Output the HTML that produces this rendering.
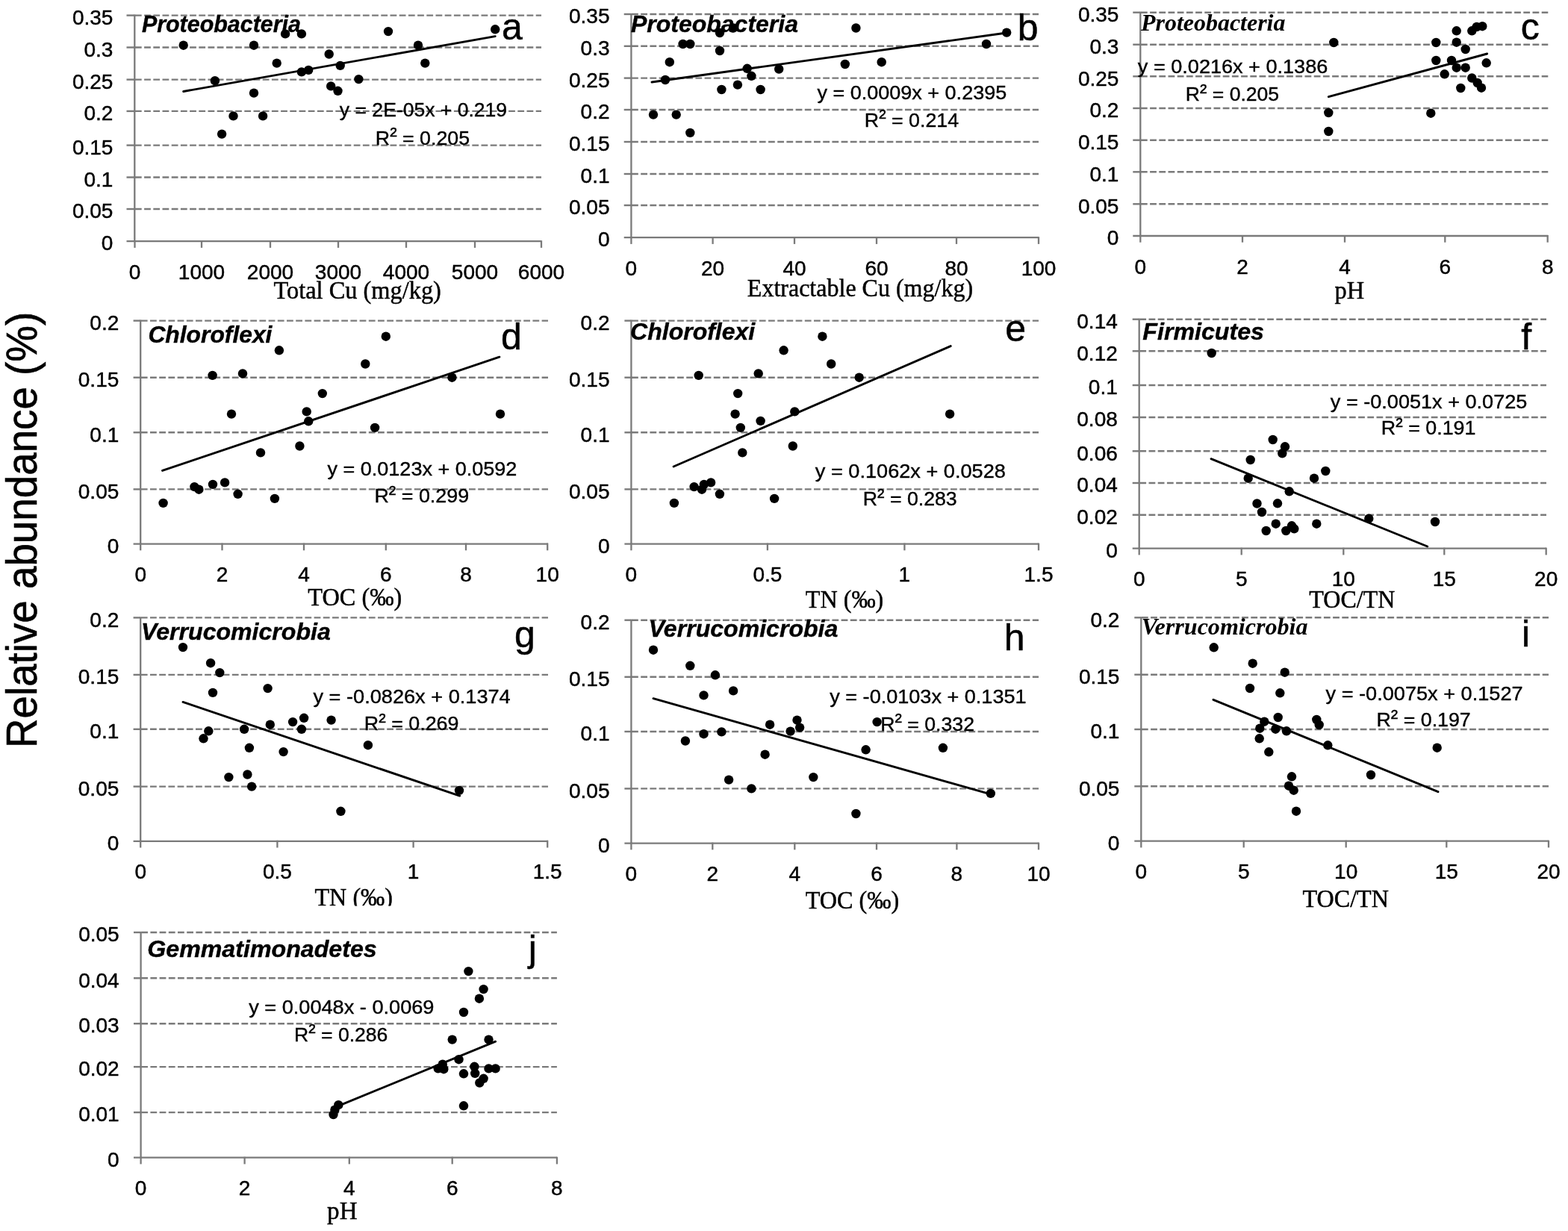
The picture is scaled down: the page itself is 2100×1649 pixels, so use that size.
<!DOCTYPE html>
<html><head><meta charset="utf-8"><title>Relative abundance scatter plots</title>
<style>
html,body{margin:0;padding:0;background:#fff;}
body{width:2100px;height:1649px;overflow:hidden;}
svg{display:block;filter:blur(0.45px);}
.t{font-family:"Liberation Sans", Arial, Helvetica, sans-serif;font-size:28.0px;fill:#000;stroke:#000;stroke-width:0.45px;}
</style></head><body>
<svg width="2100" height="1649" viewBox="0 0 2100 1649">
<rect x="0" y="0" width="2100" height="1649" fill="#fff"/>
<g id="pa"><line x1="169.5" y1="280.0" x2="180.3" y2="280.0" stroke="#7a7a7a" stroke-width="2.4"/>
<line x1="180.9" y1="280.0" x2="725" y2="280.0" stroke="#7a7a7a" stroke-width="2.4" stroke-dasharray="8.8 3.4"/>
<line x1="169.5" y1="237.5" x2="180.3" y2="237.5" stroke="#7a7a7a" stroke-width="2.4"/>
<line x1="180.9" y1="237.5" x2="725" y2="237.5" stroke="#7a7a7a" stroke-width="2.4" stroke-dasharray="8.8 3.4"/>
<line x1="169.5" y1="194.6" x2="180.3" y2="194.6" stroke="#7a7a7a" stroke-width="2.4"/>
<line x1="180.9" y1="194.6" x2="725" y2="194.6" stroke="#7a7a7a" stroke-width="2.4" stroke-dasharray="8.8 3.4"/>
<line x1="169.5" y1="148.9" x2="180.3" y2="148.9" stroke="#7a7a7a" stroke-width="2.4"/>
<line x1="180.9" y1="148.9" x2="725" y2="148.9" stroke="#7a7a7a" stroke-width="2.4" stroke-dasharray="8.8 3.4"/>
<line x1="169.5" y1="106.6" x2="180.3" y2="106.6" stroke="#7a7a7a" stroke-width="2.4"/>
<line x1="180.9" y1="106.6" x2="725" y2="106.6" stroke="#7a7a7a" stroke-width="2.4" stroke-dasharray="8.8 3.4"/>
<line x1="169.5" y1="63.5" x2="180.3" y2="63.5" stroke="#7a7a7a" stroke-width="2.4"/>
<line x1="180.9" y1="63.5" x2="725" y2="63.5" stroke="#7a7a7a" stroke-width="2.4" stroke-dasharray="8.8 3.4"/>
<line x1="169.5" y1="20.6" x2="180.3" y2="20.6" stroke="#7a7a7a" stroke-width="2.4"/>
<line x1="180.9" y1="20.6" x2="725" y2="20.6" stroke="#7a7a7a" stroke-width="2.4" stroke-dasharray="8.8 3.4"/>
<line x1="180.3" y1="19.6" x2="180.3" y2="323.2" stroke="#7a7a7a" stroke-width="2.3"/>
<line x1="169.5" y1="323.2" x2="725" y2="323.2" stroke="#7a7a7a" stroke-width="2.3"/>
<line x1="180.5" y1="322.2" x2="180.5" y2="331.9" stroke="#7a7a7a" stroke-width="2.3"/>
<line x1="270" y1="322.2" x2="270" y2="331.9" stroke="#7a7a7a" stroke-width="2.3"/>
<line x1="362" y1="322.2" x2="362" y2="331.9" stroke="#7a7a7a" stroke-width="2.3"/>
<line x1="453" y1="322.2" x2="453" y2="331.9" stroke="#7a7a7a" stroke-width="2.3"/>
<line x1="544" y1="322.2" x2="544" y2="331.9" stroke="#7a7a7a" stroke-width="2.3"/>
<line x1="636" y1="322.2" x2="636" y2="331.9" stroke="#7a7a7a" stroke-width="2.3"/>
<line x1="725" y1="322.2" x2="725" y2="331.9" stroke="#7a7a7a" stroke-width="2.3"/>
<text x="151.4" y="335.3" text-anchor="end" class="t">0</text>
<text x="151.4" y="292.2" text-anchor="end" class="t">0.05</text>
<text x="151.4" y="249.7" text-anchor="end" class="t">0.1</text>
<text x="151.4" y="206.8" text-anchor="end" class="t">0.15</text>
<text x="151.4" y="161.1" text-anchor="end" class="t">0.2</text>
<text x="151.4" y="118.8" text-anchor="end" class="t">0.25</text>
<text x="151.4" y="75.7" text-anchor="end" class="t">0.3</text>
<text x="151.4" y="32.8" text-anchor="end" class="t">0.35</text>
<text x="180.5" y="373.7" text-anchor="middle" class="t">0</text>
<text x="270.0" y="373.7" text-anchor="middle" class="t">1000</text>
<text x="362.0" y="373.7" text-anchor="middle" class="t">2000</text>
<text x="453.0" y="373.7" text-anchor="middle" class="t">3000</text>
<text x="544.0" y="373.7" text-anchor="middle" class="t">4000</text>
<text x="636.0" y="373.7" text-anchor="middle" class="t">5000</text>
<text x="725.0" y="373.7" text-anchor="middle" class="t">6000</text>
<line x1="245.7" y1="122.5" x2="663.2" y2="48.6" stroke="#000" stroke-width="2.9" stroke-linecap="round"/>
<circle cx="245.7" cy="60.7" r="6.2"/>
<circle cx="287.9" cy="108.2" r="6.2"/>
<circle cx="297.1" cy="179.6" r="6.2"/>
<circle cx="312.5" cy="155.4" r="6.2"/>
<circle cx="340" cy="60.7" r="6.2"/>
<circle cx="340" cy="124.6" r="6.2"/>
<circle cx="352.1" cy="155.4" r="6.2"/>
<circle cx="370.7" cy="84.6" r="6.2"/>
<circle cx="382.1" cy="45.4" r="6.2"/>
<circle cx="403.9" cy="45.4" r="6.2"/>
<circle cx="403.9" cy="96.4" r="6.2"/>
<circle cx="413.2" cy="93.9" r="6.2"/>
<circle cx="440.7" cy="72.5" r="6.2"/>
<circle cx="443.2" cy="115.4" r="6.2"/>
<circle cx="452.5" cy="121.8" r="6.2"/>
<circle cx="455.7" cy="87.9" r="6.2"/>
<circle cx="480.4" cy="106.1" r="6.2"/>
<circle cx="520" cy="42.1" r="6.2"/>
<circle cx="560" cy="60.7" r="6.2"/>
<circle cx="569.3" cy="84.6" r="6.2"/>
<circle cx="663.2" cy="39.3" r="6.2"/>
<text x="189.89" y="42.60" font-family='"Liberation Sans", Arial, Helvetica, sans-serif' font-size="31" font-weight="bold" font-style="italic" textLength="213.10" lengthAdjust="spacingAndGlyphs" stroke="#000" stroke-width="0.4">Proteobacteria</text>
<text x="672.05" y="52.90" font-family='"Liberation Sans", Arial, Helvetica, sans-serif' font-size="50.00" stroke="#000" stroke-width="0.5">a</text>
<text x="454.87" y="156.40" font-family='"Liberation Sans", Arial, Helvetica, sans-serif' font-size="26.7" textLength="224.24" lengthAdjust="spacingAndGlyphs" stroke="#000" stroke-width="0.4">y = 2E-05x + 0.219</text>
<text x="502.85" y="193.60" font-family='"Liberation Sans", Arial, Helvetica, sans-serif' font-size="26.7" textLength="126.19" lengthAdjust="spacingAndGlyphs" stroke="#000" stroke-width="0.4">R<tspan dy="-2.2" font-size="28.3">²</tspan><tspan dy="2.2"> = 0.205</tspan></text>
<text x="366.45" y="399.70" font-family='"Liberation Serif", "Times New Roman", Times, serif' font-size="33.5" textLength="224.48" lengthAdjust="spacingAndGlyphs" stroke="#000" stroke-width="0.45">Total Cu (mg/kg)</text></g>
<g id="pb"><line x1="835.7" y1="275" x2="845.4" y2="275" stroke="#7a7a7a" stroke-width="2.4"/>
<line x1="846.0" y1="275" x2="1391" y2="275" stroke="#7a7a7a" stroke-width="2.4" stroke-dasharray="8.8 3.4"/>
<line x1="835.7" y1="233" x2="845.4" y2="233" stroke="#7a7a7a" stroke-width="2.4"/>
<line x1="846.0" y1="233" x2="1391" y2="233" stroke="#7a7a7a" stroke-width="2.4" stroke-dasharray="8.8 3.4"/>
<line x1="835.7" y1="190" x2="845.4" y2="190" stroke="#7a7a7a" stroke-width="2.4"/>
<line x1="846.0" y1="190" x2="1391" y2="190" stroke="#7a7a7a" stroke-width="2.4" stroke-dasharray="8.8 3.4"/>
<line x1="835.7" y1="147" x2="845.4" y2="147" stroke="#7a7a7a" stroke-width="2.4"/>
<line x1="846.0" y1="147" x2="1391" y2="147" stroke="#7a7a7a" stroke-width="2.4" stroke-dasharray="8.8 3.4"/>
<line x1="835.7" y1="104.6" x2="845.4" y2="104.6" stroke="#7a7a7a" stroke-width="2.4"/>
<line x1="846.0" y1="104.6" x2="1391" y2="104.6" stroke="#7a7a7a" stroke-width="2.4" stroke-dasharray="8.8 3.4"/>
<line x1="835.7" y1="61.8" x2="845.4" y2="61.8" stroke="#7a7a7a" stroke-width="2.4"/>
<line x1="846.0" y1="61.8" x2="1391" y2="61.8" stroke="#7a7a7a" stroke-width="2.4" stroke-dasharray="8.8 3.4"/>
<line x1="835.7" y1="19" x2="845.4" y2="19" stroke="#7a7a7a" stroke-width="2.4"/>
<line x1="846.0" y1="19" x2="1391" y2="19" stroke="#7a7a7a" stroke-width="2.4" stroke-dasharray="8.8 3.4"/>
<line x1="845.4" y1="18" x2="845.4" y2="318.2" stroke="#7a7a7a" stroke-width="2.3"/>
<line x1="835.7" y1="318.2" x2="1391" y2="318.2" stroke="#7a7a7a" stroke-width="2.3"/>
<line x1="845.4" y1="317.2" x2="845.4" y2="326.9" stroke="#7a7a7a" stroke-width="2.3"/>
<line x1="954.6" y1="317.2" x2="954.6" y2="326.9" stroke="#7a7a7a" stroke-width="2.3"/>
<line x1="1064" y1="317.2" x2="1064" y2="326.9" stroke="#7a7a7a" stroke-width="2.3"/>
<line x1="1174" y1="317.2" x2="1174" y2="326.9" stroke="#7a7a7a" stroke-width="2.3"/>
<line x1="1281" y1="317.2" x2="1281" y2="326.9" stroke="#7a7a7a" stroke-width="2.3"/>
<line x1="1391" y1="317.2" x2="1391" y2="326.9" stroke="#7a7a7a" stroke-width="2.3"/>
<text x="816.5" y="330.2" text-anchor="end" class="t">0</text>
<text x="816.5" y="287.2" text-anchor="end" class="t">0.05</text>
<text x="816.5" y="245.2" text-anchor="end" class="t">0.1</text>
<text x="816.5" y="202.2" text-anchor="end" class="t">0.15</text>
<text x="816.5" y="159.2" text-anchor="end" class="t">0.2</text>
<text x="816.5" y="116.8" text-anchor="end" class="t">0.25</text>
<text x="816.5" y="74.0" text-anchor="end" class="t">0.3</text>
<text x="816.5" y="31.2" text-anchor="end" class="t">0.35</text>
<text x="845.4" y="368.7" text-anchor="middle" class="t">0</text>
<text x="954.6" y="368.7" text-anchor="middle" class="t">20</text>
<text x="1064.0" y="368.7" text-anchor="middle" class="t">40</text>
<text x="1174.0" y="368.7" text-anchor="middle" class="t">60</text>
<text x="1281.0" y="368.7" text-anchor="middle" class="t">80</text>
<text x="1391.0" y="368.7" text-anchor="middle" class="t">100</text>
<line x1="873" y1="110" x2="1348" y2="44" stroke="#000" stroke-width="2.9" stroke-linecap="round"/>
<circle cx="875" cy="153.6" r="6.2"/>
<circle cx="891" cy="107" r="6.2"/>
<circle cx="896.8" cy="83.2" r="6.2"/>
<circle cx="905.7" cy="153.6" r="6.2"/>
<circle cx="914.6" cy="59" r="6.2"/>
<circle cx="924.3" cy="59" r="6.2"/>
<circle cx="924.3" cy="177.9" r="6.2"/>
<circle cx="964" cy="44" r="6.2"/>
<circle cx="964" cy="68" r="6.2"/>
<circle cx="966.4" cy="120" r="6.2"/>
<circle cx="982" cy="37.5" r="6.2"/>
<circle cx="987.9" cy="113.6" r="6.2"/>
<circle cx="1000.7" cy="91.8" r="6.2"/>
<circle cx="1006.4" cy="101.8" r="6.2"/>
<circle cx="1018.6" cy="120" r="6.2"/>
<circle cx="1043.2" cy="92.5" r="6.2"/>
<circle cx="1131.8" cy="86" r="6.2"/>
<circle cx="1146.4" cy="37.5" r="6.2"/>
<circle cx="1180.7" cy="83.2" r="6.2"/>
<circle cx="1321" cy="59" r="6.2"/>
<circle cx="1348.2" cy="43.6" r="6.2"/>
<text x="845.06" y="42.60" font-family='"Liberation Sans", Arial, Helvetica, sans-serif' font-size="31" font-weight="bold" font-style="italic" textLength="223.88" lengthAdjust="spacingAndGlyphs" stroke="#000" stroke-width="0.4">Proteobacteria</text>
<text x="1362.75" y="53.60" font-family='"Liberation Sans", Arial, Helvetica, sans-serif' font-size="50.00" stroke="#000" stroke-width="0.5">b</text>
<text x="1094.46" y="132.90" font-family='"Liberation Sans", Arial, Helvetica, sans-serif' font-size="26.7" textLength="253.76" lengthAdjust="spacingAndGlyphs" stroke="#000" stroke-width="0.4">y = 0.0009x + 0.2395</text>
<text x="1157.85" y="169.60" font-family='"Liberation Sans", Arial, Helvetica, sans-serif' font-size="26.7" textLength="126.22" lengthAdjust="spacingAndGlyphs" stroke="#000" stroke-width="0.4">R<tspan dy="-2.2" font-size="28.3">²</tspan><tspan dy="2.2"> = 0.214</tspan></text>
<text x="1000.84" y="397.00" font-family='"Liberation Serif", "Times New Roman", Times, serif' font-size="33.5" textLength="302.29" lengthAdjust="spacingAndGlyphs" stroke="#000" stroke-width="0.45">Extractable Cu (mg/kg)</text></g>
<g id="pc"><line x1="1517.3" y1="273.3" x2="1527.3" y2="273.3" stroke="#7a7a7a" stroke-width="2.4"/>
<line x1="1527.8999999999999" y1="273.3" x2="2073.3" y2="273.3" stroke="#7a7a7a" stroke-width="2.4" stroke-dasharray="8.8 3.4"/>
<line x1="1517.3" y1="230.3" x2="1527.3" y2="230.3" stroke="#7a7a7a" stroke-width="2.4"/>
<line x1="1527.8999999999999" y1="230.3" x2="2073.3" y2="230.3" stroke="#7a7a7a" stroke-width="2.4" stroke-dasharray="8.8 3.4"/>
<line x1="1517.3" y1="187.7" x2="1527.3" y2="187.7" stroke="#7a7a7a" stroke-width="2.4"/>
<line x1="1527.8999999999999" y1="187.7" x2="2073.3" y2="187.7" stroke="#7a7a7a" stroke-width="2.4" stroke-dasharray="8.8 3.4"/>
<line x1="1517.3" y1="145" x2="1527.3" y2="145" stroke="#7a7a7a" stroke-width="2.4"/>
<line x1="1527.8999999999999" y1="145" x2="2073.3" y2="145" stroke="#7a7a7a" stroke-width="2.4" stroke-dasharray="8.8 3.4"/>
<line x1="1517.3" y1="102.3" x2="1527.3" y2="102.3" stroke="#7a7a7a" stroke-width="2.4"/>
<line x1="1527.8999999999999" y1="102.3" x2="2073.3" y2="102.3" stroke="#7a7a7a" stroke-width="2.4" stroke-dasharray="8.8 3.4"/>
<line x1="1517.3" y1="59.7" x2="1527.3" y2="59.7" stroke="#7a7a7a" stroke-width="2.4"/>
<line x1="1527.8999999999999" y1="59.7" x2="2073.3" y2="59.7" stroke="#7a7a7a" stroke-width="2.4" stroke-dasharray="8.8 3.4"/>
<line x1="1517.3" y1="16.7" x2="1527.3" y2="16.7" stroke="#7a7a7a" stroke-width="2.4"/>
<line x1="1527.8999999999999" y1="16.7" x2="2073.3" y2="16.7" stroke="#7a7a7a" stroke-width="2.4" stroke-dasharray="8.8 3.4"/>
<line x1="1527.3" y1="15.7" x2="1527.3" y2="316" stroke="#7a7a7a" stroke-width="2.3"/>
<line x1="1517.3" y1="316" x2="2073.3" y2="316" stroke="#7a7a7a" stroke-width="2.3"/>
<line x1="1527.3" y1="315" x2="1527.3" y2="324.7" stroke="#7a7a7a" stroke-width="2.3"/>
<line x1="1664" y1="315" x2="1664" y2="324.7" stroke="#7a7a7a" stroke-width="2.3"/>
<line x1="1801" y1="315" x2="1801" y2="324.7" stroke="#7a7a7a" stroke-width="2.3"/>
<line x1="1935.3" y1="315" x2="1935.3" y2="324.7" stroke="#7a7a7a" stroke-width="2.3"/>
<line x1="2072.7" y1="315" x2="2072.7" y2="324.7" stroke="#7a7a7a" stroke-width="2.3"/>
<text x="1498.4" y="328.2" text-anchor="end" class="t">0</text>
<text x="1498.4" y="285.5" text-anchor="end" class="t">0.05</text>
<text x="1498.4" y="242.5" text-anchor="end" class="t">0.1</text>
<text x="1498.4" y="199.9" text-anchor="end" class="t">0.15</text>
<text x="1498.4" y="157.2" text-anchor="end" class="t">0.2</text>
<text x="1498.4" y="114.5" text-anchor="end" class="t">0.25</text>
<text x="1498.4" y="71.9" text-anchor="end" class="t">0.3</text>
<text x="1498.4" y="28.9" text-anchor="end" class="t">0.35</text>
<text x="1527.3" y="366.5" text-anchor="middle" class="t">0</text>
<text x="1664.0" y="366.5" text-anchor="middle" class="t">2</text>
<text x="1801.0" y="366.5" text-anchor="middle" class="t">4</text>
<text x="1935.3" y="366.5" text-anchor="middle" class="t">6</text>
<text x="2072.7" y="366.5" text-anchor="middle" class="t">8</text>
<line x1="1779.3" y1="129.7" x2="1991.7" y2="72" stroke="#000" stroke-width="2.9" stroke-linecap="round"/>
<circle cx="1786.3" cy="57" r="6.2"/>
<circle cx="1779.3" cy="151" r="6.2"/>
<circle cx="1779.3" cy="176" r="6.2"/>
<circle cx="1916.3" cy="151.7" r="6.2"/>
<circle cx="1923.3" cy="57" r="6.2"/>
<circle cx="1923.3" cy="81" r="6.2"/>
<circle cx="1934.7" cy="99.3" r="6.2"/>
<circle cx="1944" cy="81" r="6.2"/>
<circle cx="1950.7" cy="41.3" r="6.2"/>
<circle cx="1950.7" cy="56.7" r="6.2"/>
<circle cx="1950.7" cy="90.7" r="6.2"/>
<circle cx="1956.3" cy="118" r="6.2"/>
<circle cx="1962.7" cy="66" r="6.2"/>
<circle cx="1962.7" cy="90.7" r="6.2"/>
<circle cx="1971.3" cy="41.3" r="6.2"/>
<circle cx="1971.3" cy="104.5" r="6.2"/>
<circle cx="1977.7" cy="36" r="6.2"/>
<circle cx="1978.7" cy="111" r="6.2"/>
<circle cx="1985.3" cy="35.2" r="6.2"/>
<circle cx="1984" cy="117.7" r="6.2"/>
<circle cx="1990.7" cy="84.3" r="6.2"/>
<text x="1528.00" y="40.70" font-family='"Liberation Serif", "Times New Roman", Times, serif' font-size="30.5" font-weight="bold" font-style="italic" textLength="193.47" lengthAdjust="spacingAndGlyphs">Proteobacteria</text>
<text x="2036.75" y="53.30" font-family='"Liberation Sans", Arial, Helvetica, sans-serif' font-size="50.00" stroke="#000" stroke-width="0.5">c</text>
<text x="1523.86" y="98.00" font-family='"Liberation Sans", Arial, Helvetica, sans-serif' font-size="26.7" textLength="254.40" lengthAdjust="spacingAndGlyphs" stroke="#000" stroke-width="0.4">y = 0.0216x + 0.1386</text>
<text x="1587.87" y="135.00" font-family='"Liberation Sans", Arial, Helvetica, sans-serif' font-size="26.7" textLength="125.26" lengthAdjust="spacingAndGlyphs" stroke="#000" stroke-width="0.4">R<tspan dy="-2.2" font-size="28.3">²</tspan><tspan dy="2.2"> = 0.205</tspan></text>
<text x="1787.61" y="399.50" font-family='"Liberation Serif", "Times New Roman", Times, serif' font-size="33.5" textLength="39.67" lengthAdjust="spacingAndGlyphs" stroke="#000" stroke-width="0.45">pH</text></g>
<g id="pd"><line x1="178.6" y1="655.4" x2="188.2" y2="655.4" stroke="#7a7a7a" stroke-width="2.4"/>
<line x1="188.79999999999998" y1="655.4" x2="734" y2="655.4" stroke="#7a7a7a" stroke-width="2.4" stroke-dasharray="8.8 3.4"/>
<line x1="178.6" y1="579.3" x2="188.2" y2="579.3" stroke="#7a7a7a" stroke-width="2.4"/>
<line x1="188.79999999999998" y1="579.3" x2="734" y2="579.3" stroke="#7a7a7a" stroke-width="2.4" stroke-dasharray="8.8 3.4"/>
<line x1="178.6" y1="505.7" x2="188.2" y2="505.7" stroke="#7a7a7a" stroke-width="2.4"/>
<line x1="188.79999999999998" y1="505.7" x2="734" y2="505.7" stroke="#7a7a7a" stroke-width="2.4" stroke-dasharray="8.8 3.4"/>
<line x1="178.6" y1="429.6" x2="188.2" y2="429.6" stroke="#7a7a7a" stroke-width="2.4"/>
<line x1="188.79999999999998" y1="429.6" x2="734" y2="429.6" stroke="#7a7a7a" stroke-width="2.4" stroke-dasharray="8.8 3.4"/>
<line x1="188.2" y1="428.6" x2="188.2" y2="728.6" stroke="#7a7a7a" stroke-width="2.3"/>
<line x1="178.6" y1="728.6" x2="734" y2="728.6" stroke="#7a7a7a" stroke-width="2.3"/>
<line x1="188.2" y1="727.6" x2="188.2" y2="737.3000000000001" stroke="#7a7a7a" stroke-width="2.3"/>
<line x1="297.5" y1="727.6" x2="297.5" y2="737.3000000000001" stroke="#7a7a7a" stroke-width="2.3"/>
<line x1="407" y1="727.6" x2="407" y2="737.3000000000001" stroke="#7a7a7a" stroke-width="2.3"/>
<line x1="516.8" y1="727.6" x2="516.8" y2="737.3000000000001" stroke="#7a7a7a" stroke-width="2.3"/>
<line x1="624" y1="727.6" x2="624" y2="737.3000000000001" stroke="#7a7a7a" stroke-width="2.3"/>
<line x1="733.2" y1="727.6" x2="733.2" y2="737.3000000000001" stroke="#7a7a7a" stroke-width="2.3"/>
<text x="159.3" y="740.8" text-anchor="end" class="t">0</text>
<text x="159.3" y="667.6" text-anchor="end" class="t">0.05</text>
<text x="159.3" y="591.5" text-anchor="end" class="t">0.1</text>
<text x="159.3" y="517.9" text-anchor="end" class="t">0.15</text>
<text x="159.3" y="441.8" text-anchor="end" class="t">0.2</text>
<text x="188.2" y="779.1" text-anchor="middle" class="t">0</text>
<text x="297.5" y="779.1" text-anchor="middle" class="t">2</text>
<text x="407.0" y="779.1" text-anchor="middle" class="t">4</text>
<text x="516.8" y="779.1" text-anchor="middle" class="t">6</text>
<text x="624.0" y="779.1" text-anchor="middle" class="t">8</text>
<text x="733.2" y="779.1" text-anchor="middle" class="t">10</text>
<line x1="217.5" y1="630.4" x2="668.9" y2="478.2" stroke="#000" stroke-width="2.9" stroke-linecap="round"/>
<circle cx="218.6" cy="673.9" r="6.2"/>
<circle cx="260.4" cy="652.1" r="6.2"/>
<circle cx="266.4" cy="655.7" r="6.2"/>
<circle cx="284.6" cy="502.9" r="6.2"/>
<circle cx="285" cy="648.9" r="6.2"/>
<circle cx="301.1" cy="646.4" r="6.2"/>
<circle cx="310" cy="554.6" r="6.2"/>
<circle cx="318.6" cy="661.8" r="6.2"/>
<circle cx="325" cy="500.4" r="6.2"/>
<circle cx="349" cy="606.4" r="6.2"/>
<circle cx="367.9" cy="667.9" r="6.2"/>
<circle cx="373.9" cy="469.3" r="6.2"/>
<circle cx="401.4" cy="597.5" r="6.2"/>
<circle cx="410.7" cy="551.4" r="6.2"/>
<circle cx="413.2" cy="564.3" r="6.2"/>
<circle cx="431.8" cy="527.1" r="6.2"/>
<circle cx="489.3" cy="487.5" r="6.2"/>
<circle cx="502.1" cy="572.9" r="6.2"/>
<circle cx="516.8" cy="450.7" r="6.2"/>
<circle cx="605.4" cy="505.7" r="6.2"/>
<circle cx="670" cy="554.6" r="6.2"/>
<text x="198.41" y="459.20" font-family='"Liberation Sans", Arial, Helvetica, sans-serif' font-size="31" font-weight="bold" font-style="italic" textLength="166.04" lengthAdjust="spacingAndGlyphs" stroke="#000" stroke-width="0.4">Chloroflexi</text>
<text x="671.00" y="468.00" font-family='"Liberation Sans", Arial, Helvetica, sans-serif' font-size="50.00" stroke="#000" stroke-width="0.5">d</text>
<text x="438.46" y="636.80" font-family='"Liberation Sans", Arial, Helvetica, sans-serif' font-size="26.7" textLength="253.93" lengthAdjust="spacingAndGlyphs" stroke="#000" stroke-width="0.4">y = 0.0123x + 0.0592</text>
<text x="501.44" y="673.00" font-family='"Liberation Sans", Arial, Helvetica, sans-serif' font-size="26.7" textLength="126.63" lengthAdjust="spacingAndGlyphs" stroke="#000" stroke-width="0.4">R<tspan dy="-2.2" font-size="28.3">²</tspan><tspan dy="2.2"> = 0.299</tspan></text>
<text x="412.35" y="810.90" font-family='"Liberation Serif", "Times New Roman", Times, serif' font-size="33.5" textLength="125.84" lengthAdjust="spacingAndGlyphs" stroke="#000" stroke-width="0.45">TOC (‰)</text></g>
<g id="pe"><line x1="836.4" y1="655.4" x2="845.4" y2="655.4" stroke="#7a7a7a" stroke-width="2.4"/>
<line x1="846.0" y1="655.4" x2="1391" y2="655.4" stroke="#7a7a7a" stroke-width="2.4" stroke-dasharray="8.8 3.4"/>
<line x1="836.4" y1="579.3" x2="845.4" y2="579.3" stroke="#7a7a7a" stroke-width="2.4"/>
<line x1="846.0" y1="579.3" x2="1391" y2="579.3" stroke="#7a7a7a" stroke-width="2.4" stroke-dasharray="8.8 3.4"/>
<line x1="836.4" y1="505.7" x2="845.4" y2="505.7" stroke="#7a7a7a" stroke-width="2.4"/>
<line x1="846.0" y1="505.7" x2="1391" y2="505.7" stroke="#7a7a7a" stroke-width="2.4" stroke-dasharray="8.8 3.4"/>
<line x1="836.4" y1="429.6" x2="845.4" y2="429.6" stroke="#7a7a7a" stroke-width="2.4"/>
<line x1="846.0" y1="429.6" x2="1391" y2="429.6" stroke="#7a7a7a" stroke-width="2.4" stroke-dasharray="8.8 3.4"/>
<line x1="845.4" y1="428.6" x2="845.4" y2="728.6" stroke="#7a7a7a" stroke-width="2.3"/>
<line x1="836.4" y1="728.6" x2="1391" y2="728.6" stroke="#7a7a7a" stroke-width="2.3"/>
<line x1="845.4" y1="727.6" x2="845.4" y2="737.3000000000001" stroke="#7a7a7a" stroke-width="2.3"/>
<line x1="1027.9" y1="727.6" x2="1027.9" y2="737.3000000000001" stroke="#7a7a7a" stroke-width="2.3"/>
<line x1="1211.4" y1="727.6" x2="1211.4" y2="737.3000000000001" stroke="#7a7a7a" stroke-width="2.3"/>
<line x1="1391" y1="727.6" x2="1391" y2="737.3000000000001" stroke="#7a7a7a" stroke-width="2.3"/>
<text x="816.5" y="740.8" text-anchor="end" class="t">0</text>
<text x="816.5" y="667.6" text-anchor="end" class="t">0.05</text>
<text x="816.5" y="591.5" text-anchor="end" class="t">0.1</text>
<text x="816.5" y="517.9" text-anchor="end" class="t">0.15</text>
<text x="816.5" y="441.8" text-anchor="end" class="t">0.2</text>
<text x="845.4" y="779.1" text-anchor="middle" class="t">0</text>
<text x="1027.9" y="779.1" text-anchor="middle" class="t">0.5</text>
<text x="1211.4" y="779.1" text-anchor="middle" class="t">1</text>
<text x="1391.0" y="779.1" text-anchor="middle" class="t">1.5</text>
<line x1="902.1" y1="625" x2="1273.2" y2="463.6" stroke="#000" stroke-width="2.9" stroke-linecap="round"/>
<circle cx="902.9" cy="673.9" r="6.2"/>
<circle cx="929.6" cy="652.1" r="6.2"/>
<circle cx="935.7" cy="502.9" r="6.2"/>
<circle cx="940" cy="655.7" r="6.2"/>
<circle cx="942.9" cy="648.9" r="6.2"/>
<circle cx="952.1" cy="646.4" r="6.2"/>
<circle cx="963.9" cy="661.8" r="6.2"/>
<circle cx="984.6" cy="554.6" r="6.2"/>
<circle cx="988.2" cy="527.1" r="6.2"/>
<circle cx="991.8" cy="572.9" r="6.2"/>
<circle cx="994.3" cy="606.4" r="6.2"/>
<circle cx="1015.7" cy="500.4" r="6.2"/>
<circle cx="1018.6" cy="563.9" r="6.2"/>
<circle cx="1037.1" cy="667.9" r="6.2"/>
<circle cx="1049.6" cy="469.3" r="6.2"/>
<circle cx="1061.8" cy="597.5" r="6.2"/>
<circle cx="1064.3" cy="551.4" r="6.2"/>
<circle cx="1101.4" cy="450.7" r="6.2"/>
<circle cx="1113.2" cy="487.5" r="6.2"/>
<circle cx="1150.7" cy="505.7" r="6.2"/>
<circle cx="1272.1" cy="554.6" r="6.2"/>
<text x="844.10" y="454.60" font-family='"Liberation Sans", Arial, Helvetica, sans-serif' font-size="31" font-weight="bold" font-style="italic" textLength="167.15" lengthAdjust="spacingAndGlyphs" stroke="#000" stroke-width="0.4">Chloroflexi</text>
<text x="1346.15" y="456.80" font-family='"Liberation Sans", Arial, Helvetica, sans-serif' font-size="50.00" stroke="#000" stroke-width="0.5">e</text>
<text x="1091.86" y="640.00" font-family='"Liberation Sans", Arial, Helvetica, sans-serif' font-size="26.7" textLength="254.96" lengthAdjust="spacingAndGlyphs" stroke="#000" stroke-width="0.4">y = 0.1062x + 0.0528</text>
<text x="1155.76" y="676.80" font-family='"Liberation Sans", Arial, Helvetica, sans-serif' font-size="26.7" textLength="125.91" lengthAdjust="spacingAndGlyphs" stroke="#000" stroke-width="0.4">R<tspan dy="-2.2" font-size="28.3">²</tspan><tspan dy="2.2"> = 0.283</tspan></text>
<text x="1078.76" y="814.30" font-family='"Liberation Serif", "Times New Roman", Times, serif' font-size="33.5" textLength="104.56" lengthAdjust="spacingAndGlyphs" stroke="#000" stroke-width="0.45">TN (‰)</text></g>
<g id="pf"><line x1="1516.7" y1="689.7" x2="1525.7" y2="689.7" stroke="#7a7a7a" stroke-width="2.4"/>
<line x1="1526.3" y1="689.7" x2="2071" y2="689.7" stroke="#7a7a7a" stroke-width="2.4" stroke-dasharray="8.8 3.4"/>
<line x1="1516.7" y1="647" x2="1525.7" y2="647" stroke="#7a7a7a" stroke-width="2.4"/>
<line x1="1526.3" y1="647" x2="2071" y2="647" stroke="#7a7a7a" stroke-width="2.4" stroke-dasharray="8.8 3.4"/>
<line x1="1516.7" y1="604.3" x2="1525.7" y2="604.3" stroke="#7a7a7a" stroke-width="2.4"/>
<line x1="1526.3" y1="604.3" x2="2071" y2="604.3" stroke="#7a7a7a" stroke-width="2.4" stroke-dasharray="8.8 3.4"/>
<line x1="1516.7" y1="559" x2="1525.7" y2="559" stroke="#7a7a7a" stroke-width="2.4"/>
<line x1="1526.3" y1="559" x2="2071" y2="559" stroke="#7a7a7a" stroke-width="2.4" stroke-dasharray="8.8 3.4"/>
<line x1="1516.7" y1="516" x2="1525.7" y2="516" stroke="#7a7a7a" stroke-width="2.4"/>
<line x1="1526.3" y1="516" x2="2071" y2="516" stroke="#7a7a7a" stroke-width="2.4" stroke-dasharray="8.8 3.4"/>
<line x1="1516.7" y1="470.3" x2="1525.7" y2="470.3" stroke="#7a7a7a" stroke-width="2.4"/>
<line x1="1526.3" y1="470.3" x2="2071" y2="470.3" stroke="#7a7a7a" stroke-width="2.4" stroke-dasharray="8.8 3.4"/>
<line x1="1516.7" y1="427.7" x2="1525.7" y2="427.7" stroke="#7a7a7a" stroke-width="2.4"/>
<line x1="1526.3" y1="427.7" x2="2071" y2="427.7" stroke="#7a7a7a" stroke-width="2.4" stroke-dasharray="8.8 3.4"/>
<line x1="1525.7" y1="426.7" x2="1525.7" y2="734.7" stroke="#7a7a7a" stroke-width="2.3"/>
<line x1="1516.7" y1="734.7" x2="2071" y2="734.7" stroke="#7a7a7a" stroke-width="2.3"/>
<line x1="1525.7" y1="733.7" x2="1525.7" y2="743.4000000000001" stroke="#7a7a7a" stroke-width="2.3"/>
<line x1="1662.7" y1="733.7" x2="1662.7" y2="743.4000000000001" stroke="#7a7a7a" stroke-width="2.3"/>
<line x1="1799.3" y1="733.7" x2="1799.3" y2="743.4000000000001" stroke="#7a7a7a" stroke-width="2.3"/>
<line x1="1934.3" y1="733.7" x2="1934.3" y2="743.4000000000001" stroke="#7a7a7a" stroke-width="2.3"/>
<line x1="2070.7" y1="733.7" x2="2070.7" y2="743.4000000000001" stroke="#7a7a7a" stroke-width="2.3"/>
<text x="1496.8" y="746.9" text-anchor="end" class="t">0</text>
<text x="1496.8" y="701.9" text-anchor="end" class="t">0.02</text>
<text x="1496.8" y="659.2" text-anchor="end" class="t">0.04</text>
<text x="1496.8" y="616.5" text-anchor="end" class="t">0.06</text>
<text x="1496.8" y="571.2" text-anchor="end" class="t">0.08</text>
<text x="1496.8" y="528.2" text-anchor="end" class="t">0.1</text>
<text x="1496.8" y="482.5" text-anchor="end" class="t">0.12</text>
<text x="1496.8" y="439.9" text-anchor="end" class="t">0.14</text>
<text x="1525.7" y="785.2" text-anchor="middle" class="t">0</text>
<text x="1662.7" y="785.2" text-anchor="middle" class="t">5</text>
<text x="1799.3" y="785.2" text-anchor="middle" class="t">10</text>
<text x="1934.3" y="785.2" text-anchor="middle" class="t">15</text>
<text x="2070.7" y="785.2" text-anchor="middle" class="t">20</text>
<line x1="1622" y1="614.7" x2="1911.7" y2="732" stroke="#000" stroke-width="2.9" stroke-linecap="round"/>
<circle cx="1622.7" cy="473" r="6.2"/>
<circle cx="1671.7" cy="640.7" r="6.2"/>
<circle cx="1674.7" cy="616" r="6.2"/>
<circle cx="1683.5" cy="674.5" r="6.2"/>
<circle cx="1690" cy="686" r="6.2"/>
<circle cx="1695.7" cy="711" r="6.2"/>
<circle cx="1704.7" cy="589" r="6.2"/>
<circle cx="1708.7" cy="701.7" r="6.2"/>
<circle cx="1711" cy="674.3" r="6.2"/>
<circle cx="1717.3" cy="607.3" r="6.2"/>
<circle cx="1721" cy="598.3" r="6.2"/>
<circle cx="1722.3" cy="711" r="6.2"/>
<circle cx="1726.7" cy="658.3" r="6.2"/>
<circle cx="1730" cy="704.3" r="6.2"/>
<circle cx="1733.3" cy="708.3" r="6.2"/>
<circle cx="1760" cy="640.7" r="6.2"/>
<circle cx="1763.3" cy="701.7" r="6.2"/>
<circle cx="1775.3" cy="631" r="6.2"/>
<circle cx="1833.3" cy="694.7" r="6.2"/>
<circle cx="1922" cy="699" r="6.2"/>
<text x="1530.36" y="454.90" font-family='"Liberation Sans", Arial, Helvetica, sans-serif' font-size="31" font-weight="bold" font-style="italic" textLength="162.54" lengthAdjust="spacingAndGlyphs" stroke="#000" stroke-width="0.4">Firmicutes</text>
<text x="2037.25" y="468.30" font-family='"Liberation Sans", Arial, Helvetica, sans-serif' font-size="50.00" stroke="#000" stroke-width="0.5">f</text>
<text x="1781.86" y="546.70" font-family='"Liberation Sans", Arial, Helvetica, sans-serif' font-size="26.7" textLength="263.51" lengthAdjust="spacingAndGlyphs" stroke="#000" stroke-width="0.4">y = -0.0051x + 0.0725</text>
<text x="1849.84" y="581.70" font-family='"Liberation Sans", Arial, Helvetica, sans-serif' font-size="26.7" textLength="126.57" lengthAdjust="spacingAndGlyphs" stroke="#000" stroke-width="0.4">R<tspan dy="-2.2" font-size="28.3">²</tspan><tspan dy="2.2"> = 0.191</tspan></text>
<text x="1753.36" y="814.30" font-family='"Liberation Serif", "Times New Roman", Times, serif' font-size="33.5" textLength="115.07" lengthAdjust="spacingAndGlyphs" stroke="#000" stroke-width="0.45">TOC/TN</text></g>
<g id="pg"><line x1="178.6" y1="1053.6" x2="188.2" y2="1053.6" stroke="#7a7a7a" stroke-width="2.4"/>
<line x1="188.79999999999998" y1="1053.6" x2="734" y2="1053.6" stroke="#7a7a7a" stroke-width="2.4" stroke-dasharray="8.8 3.4"/>
<line x1="178.6" y1="976.8" x2="188.2" y2="976.8" stroke="#7a7a7a" stroke-width="2.4"/>
<line x1="188.79999999999998" y1="976.8" x2="734" y2="976.8" stroke="#7a7a7a" stroke-width="2.4" stroke-dasharray="8.8 3.4"/>
<line x1="178.6" y1="903.9" x2="188.2" y2="903.9" stroke="#7a7a7a" stroke-width="2.4"/>
<line x1="188.79999999999998" y1="903.9" x2="734" y2="903.9" stroke="#7a7a7a" stroke-width="2.4" stroke-dasharray="8.8 3.4"/>
<line x1="178.6" y1="827.4" x2="188.2" y2="827.4" stroke="#7a7a7a" stroke-width="2.4"/>
<line x1="188.79999999999998" y1="827.4" x2="734" y2="827.4" stroke="#7a7a7a" stroke-width="2.4" stroke-dasharray="8.8 3.4"/>
<line x1="188.2" y1="826.4" x2="188.2" y2="1126.8" stroke="#7a7a7a" stroke-width="2.3"/>
<line x1="178.6" y1="1126.8" x2="734" y2="1126.8" stroke="#7a7a7a" stroke-width="2.3"/>
<line x1="188.2" y1="1125.8" x2="188.2" y2="1135.5" stroke="#7a7a7a" stroke-width="2.3"/>
<line x1="371.4" y1="1125.8" x2="371.4" y2="1135.5" stroke="#7a7a7a" stroke-width="2.3"/>
<line x1="553.6" y1="1125.8" x2="553.6" y2="1135.5" stroke="#7a7a7a" stroke-width="2.3"/>
<line x1="733.2" y1="1125.8" x2="733.2" y2="1135.5" stroke="#7a7a7a" stroke-width="2.3"/>
<text x="159.3" y="1139.0" text-anchor="end" class="t">0</text>
<text x="159.3" y="1065.8" text-anchor="end" class="t">0.05</text>
<text x="159.3" y="989.0" text-anchor="end" class="t">0.1</text>
<text x="159.3" y="916.1" text-anchor="end" class="t">0.15</text>
<text x="159.3" y="839.6" text-anchor="end" class="t">0.2</text>
<text x="188.2" y="1177.3" text-anchor="middle" class="t">0</text>
<text x="371.4" y="1177.3" text-anchor="middle" class="t">0.5</text>
<text x="553.6" y="1177.3" text-anchor="middle" class="t">1</text>
<text x="733.2" y="1177.3" text-anchor="middle" class="t">1.5</text>
<line x1="245" y1="940.4" x2="615.7" y2="1066.1" stroke="#000" stroke-width="2.9" stroke-linecap="round"/>
<circle cx="245" cy="867.1" r="6.2"/>
<circle cx="272.5" cy="989.3" r="6.2"/>
<circle cx="279.3" cy="979.3" r="6.2"/>
<circle cx="282.1" cy="888.2" r="6.2"/>
<circle cx="285" cy="927.9" r="6.2"/>
<circle cx="294.3" cy="901.1" r="6.2"/>
<circle cx="306.4" cy="1041.1" r="6.2"/>
<circle cx="327.1" cy="976.8" r="6.2"/>
<circle cx="331.4" cy="1037.5" r="6.2"/>
<circle cx="333.9" cy="1001.8" r="6.2"/>
<circle cx="337.1" cy="1053.6" r="6.2"/>
<circle cx="358.6" cy="922.1" r="6.2"/>
<circle cx="361.8" cy="970.7" r="6.2"/>
<circle cx="379.6" cy="1007.1" r="6.2"/>
<circle cx="392.1" cy="967.1" r="6.2"/>
<circle cx="403.9" cy="976.8" r="6.2"/>
<circle cx="407.1" cy="961.8" r="6.2"/>
<circle cx="443.6" cy="964.6" r="6.2"/>
<circle cx="456.4" cy="1086.8" r="6.2"/>
<circle cx="492.9" cy="998.2" r="6.2"/>
<circle cx="615" cy="1058.9" r="6.2"/>
<text x="189.07" y="857.30" font-family='"Liberation Sans", Arial, Helvetica, sans-serif' font-size="31" font-weight="bold" font-style="italic" textLength="253.70" lengthAdjust="spacingAndGlyphs" stroke="#000" stroke-width="0.4">Verrucomicrobia</text>
<text x="689.00" y="866.90" font-family='"Liberation Sans", Arial, Helvetica, sans-serif' font-size="50.00" stroke="#000" stroke-width="0.5">g</text>
<text x="419.46" y="942.00" font-family='"Liberation Sans", Arial, Helvetica, sans-serif' font-size="26.7" textLength="264.24" lengthAdjust="spacingAndGlyphs" stroke="#000" stroke-width="0.4">y = -0.0826x + 0.1374</text>
<text x="487.84" y="977.90" font-family='"Liberation Sans", Arial, Helvetica, sans-serif' font-size="26.7" textLength="126.63" lengthAdjust="spacingAndGlyphs" stroke="#000" stroke-width="0.4">R<tspan dy="-2.2" font-size="28.3">²</tspan><tspan dy="2.2"> = 0.269</tspan></text>
<text x="421.46" y="1213.10" font-family='"Liberation Serif", "Times New Roman", Times, serif' font-size="33.5" textLength="104.56" lengthAdjust="spacingAndGlyphs" stroke="#000" stroke-width="0.45">TN (‰)</text>
<rect x="400" y="1213.6" width="150" height="12" fill="#fff"/></g>
<g id="ph"><line x1="836.4" y1="1056.4" x2="845.4" y2="1056.4" stroke="#7a7a7a" stroke-width="2.4"/>
<line x1="846.0" y1="1056.4" x2="1391" y2="1056.4" stroke="#7a7a7a" stroke-width="2.4" stroke-dasharray="8.8 3.4"/>
<line x1="836.4" y1="980" x2="845.4" y2="980" stroke="#7a7a7a" stroke-width="2.4"/>
<line x1="846.0" y1="980" x2="1391" y2="980" stroke="#7a7a7a" stroke-width="2.4" stroke-dasharray="8.8 3.4"/>
<line x1="836.4" y1="906.8" x2="845.4" y2="906.8" stroke="#7a7a7a" stroke-width="2.4"/>
<line x1="846.0" y1="906.8" x2="1391" y2="906.8" stroke="#7a7a7a" stroke-width="2.4" stroke-dasharray="8.8 3.4"/>
<line x1="836.4" y1="830.7" x2="845.4" y2="830.7" stroke="#7a7a7a" stroke-width="2.4"/>
<line x1="846.0" y1="830.7" x2="1391" y2="830.7" stroke="#7a7a7a" stroke-width="2.4" stroke-dasharray="8.8 3.4"/>
<line x1="845.4" y1="829.7" x2="845.4" y2="1129.6" stroke="#7a7a7a" stroke-width="2.3"/>
<line x1="836.4" y1="1129.6" x2="1391" y2="1129.6" stroke="#7a7a7a" stroke-width="2.3"/>
<line x1="845.4" y1="1128.6" x2="845.4" y2="1138.3" stroke="#7a7a7a" stroke-width="2.3"/>
<line x1="954.3" y1="1128.6" x2="954.3" y2="1138.3" stroke="#7a7a7a" stroke-width="2.3"/>
<line x1="1064.3" y1="1128.6" x2="1064.3" y2="1138.3" stroke="#7a7a7a" stroke-width="2.3"/>
<line x1="1174" y1="1128.6" x2="1174" y2="1138.3" stroke="#7a7a7a" stroke-width="2.3"/>
<line x1="1281.4" y1="1128.6" x2="1281.4" y2="1138.3" stroke="#7a7a7a" stroke-width="2.3"/>
<line x1="1391" y1="1128.6" x2="1391" y2="1138.3" stroke="#7a7a7a" stroke-width="2.3"/>
<text x="816.5" y="1141.8" text-anchor="end" class="t">0</text>
<text x="816.5" y="1068.6" text-anchor="end" class="t">0.05</text>
<text x="816.5" y="992.2" text-anchor="end" class="t">0.1</text>
<text x="816.5" y="919.0" text-anchor="end" class="t">0.15</text>
<text x="816.5" y="842.9" text-anchor="end" class="t">0.2</text>
<text x="845.4" y="1180.1" text-anchor="middle" class="t">0</text>
<text x="954.3" y="1180.1" text-anchor="middle" class="t">2</text>
<text x="1064.3" y="1180.1" text-anchor="middle" class="t">4</text>
<text x="1174.0" y="1180.1" text-anchor="middle" class="t">6</text>
<text x="1281.4" y="1180.1" text-anchor="middle" class="t">8</text>
<text x="1391.0" y="1180.1" text-anchor="middle" class="t">10</text>
<line x1="875" y1="935.7" x2="1325.7" y2="1063.6" stroke="#000" stroke-width="2.9" stroke-linecap="round"/>
<circle cx="875" cy="870.7" r="6.2"/>
<circle cx="917.9" cy="992.5" r="6.2"/>
<circle cx="924.3" cy="891.8" r="6.2"/>
<circle cx="942.5" cy="931.4" r="6.2"/>
<circle cx="942.5" cy="983.2" r="6.2"/>
<circle cx="957.9" cy="904.3" r="6.2"/>
<circle cx="966.4" cy="980.4" r="6.2"/>
<circle cx="976.1" cy="1044.6" r="6.2"/>
<circle cx="982.1" cy="925.4" r="6.2"/>
<circle cx="1006.4" cy="1056.4" r="6.2"/>
<circle cx="1024.6" cy="1010.7" r="6.2"/>
<circle cx="1031.1" cy="970.7" r="6.2"/>
<circle cx="1058.6" cy="979.6" r="6.2"/>
<circle cx="1067.5" cy="964.6" r="6.2"/>
<circle cx="1071.1" cy="974.6" r="6.2"/>
<circle cx="1089.3" cy="1041.1" r="6.2"/>
<circle cx="1146.4" cy="1090" r="6.2"/>
<circle cx="1159.6" cy="1004.3" r="6.2"/>
<circle cx="1174.6" cy="967.1" r="6.2"/>
<circle cx="1262.9" cy="1001.8" r="6.2"/>
<circle cx="1326.8" cy="1062.9" r="6.2"/>
<text x="868.67" y="852.80" font-family='"Liberation Sans", Arial, Helvetica, sans-serif' font-size="31" font-weight="bold" font-style="italic" textLength="253.70" lengthAdjust="spacingAndGlyphs" stroke="#000" stroke-width="0.4">Verrucomicrobia</text>
<text x="1344.70" y="871.40" font-family='"Liberation Sans", Arial, Helvetica, sans-serif' font-size="50.00" stroke="#000" stroke-width="0.5">h</text>
<text x="1111.26" y="942.10" font-family='"Liberation Sans", Arial, Helvetica, sans-serif' font-size="26.7" textLength="263.28" lengthAdjust="spacingAndGlyphs" stroke="#000" stroke-width="0.4">y = -0.0103x + 0.1351</text>
<text x="1179.26" y="978.60" font-family='"Liberation Sans", Arial, Helvetica, sans-serif' font-size="26.7" textLength="125.74" lengthAdjust="spacingAndGlyphs" stroke="#000" stroke-width="0.4">R<tspan dy="-2.2" font-size="28.3">²</tspan><tspan dy="2.2"> = 0.332</tspan></text>
<text x="1078.76" y="1216.60" font-family='"Liberation Serif", "Times New Roman", Times, serif' font-size="33.5" textLength="125.53" lengthAdjust="spacingAndGlyphs" stroke="#000" stroke-width="0.45">TOC (‰)</text></g>
<g id="pi"><line x1="1519.3" y1="1053.3" x2="1528.3" y2="1053.3" stroke="#7a7a7a" stroke-width="2.4"/>
<line x1="1528.8999999999999" y1="1053.3" x2="2074" y2="1053.3" stroke="#7a7a7a" stroke-width="2.4" stroke-dasharray="8.8 3.4"/>
<line x1="1519.3" y1="977" x2="1528.3" y2="977" stroke="#7a7a7a" stroke-width="2.4"/>
<line x1="1528.8999999999999" y1="977" x2="2074" y2="977" stroke="#7a7a7a" stroke-width="2.4" stroke-dasharray="8.8 3.4"/>
<line x1="1519.3" y1="903.7" x2="1528.3" y2="903.7" stroke="#7a7a7a" stroke-width="2.4"/>
<line x1="1528.8999999999999" y1="903.7" x2="2074" y2="903.7" stroke="#7a7a7a" stroke-width="2.4" stroke-dasharray="8.8 3.4"/>
<line x1="1519.3" y1="827.3" x2="1528.3" y2="827.3" stroke="#7a7a7a" stroke-width="2.4"/>
<line x1="1528.8999999999999" y1="827.3" x2="2074" y2="827.3" stroke="#7a7a7a" stroke-width="2.4" stroke-dasharray="8.8 3.4"/>
<line x1="1528.3" y1="826.3" x2="1528.3" y2="1126.7" stroke="#7a7a7a" stroke-width="2.3"/>
<line x1="1519.3" y1="1126.7" x2="2074" y2="1126.7" stroke="#7a7a7a" stroke-width="2.3"/>
<line x1="1528.3" y1="1125.7" x2="1528.3" y2="1135.4" stroke="#7a7a7a" stroke-width="2.3"/>
<line x1="1665.7" y1="1125.7" x2="1665.7" y2="1135.4" stroke="#7a7a7a" stroke-width="2.3"/>
<line x1="1802.7" y1="1125.7" x2="1802.7" y2="1135.4" stroke="#7a7a7a" stroke-width="2.3"/>
<line x1="1937.3" y1="1125.7" x2="1937.3" y2="1135.4" stroke="#7a7a7a" stroke-width="2.3"/>
<line x1="2074" y1="1125.7" x2="2074" y2="1135.4" stroke="#7a7a7a" stroke-width="2.3"/>
<text x="1499.4" y="1138.9" text-anchor="end" class="t">0</text>
<text x="1499.4" y="1065.5" text-anchor="end" class="t">0.05</text>
<text x="1499.4" y="989.2" text-anchor="end" class="t">0.1</text>
<text x="1499.4" y="915.9" text-anchor="end" class="t">0.15</text>
<text x="1499.4" y="839.5" text-anchor="end" class="t">0.2</text>
<text x="1528.3" y="1177.2" text-anchor="middle" class="t">0</text>
<text x="1665.7" y="1177.2" text-anchor="middle" class="t">5</text>
<text x="1802.7" y="1177.2" text-anchor="middle" class="t">10</text>
<text x="1937.3" y="1177.2" text-anchor="middle" class="t">15</text>
<text x="2074.0" y="1177.2" text-anchor="middle" class="t">20</text>
<line x1="1625" y1="937.3" x2="1926" y2="1060.7" stroke="#000" stroke-width="2.9" stroke-linecap="round"/>
<circle cx="1625.7" cy="867.3" r="6.2"/>
<circle cx="1674" cy="922" r="6.2"/>
<circle cx="1677.7" cy="888.7" r="6.2"/>
<circle cx="1686.7" cy="989.3" r="6.2"/>
<circle cx="1687.3" cy="975.7" r="6.2"/>
<circle cx="1693.3" cy="966.7" r="6.2"/>
<circle cx="1699.3" cy="1007.3" r="6.2"/>
<circle cx="1708.3" cy="976.7" r="6.2"/>
<circle cx="1711.7" cy="961" r="6.2"/>
<circle cx="1714.3" cy="928.3" r="6.2"/>
<circle cx="1720.7" cy="900.7" r="6.2"/>
<circle cx="1723" cy="979.3" r="6.2"/>
<circle cx="1726" cy="1052.7" r="6.2"/>
<circle cx="1730" cy="1040.3" r="6.2"/>
<circle cx="1732.7" cy="1058.7" r="6.2"/>
<circle cx="1736" cy="1086.7" r="6.2"/>
<circle cx="1763.3" cy="964" r="6.2"/>
<circle cx="1766.7" cy="971" r="6.2"/>
<circle cx="1778.3" cy="998.3" r="6.2"/>
<circle cx="1836" cy="1038" r="6.2"/>
<circle cx="1924.7" cy="1001.7" r="6.2"/>
<text x="1528.78" y="850.00" font-family='"Liberation Serif", "Times New Roman", Times, serif' font-size="30.5" font-weight="bold" font-style="italic" textLength="222.72" lengthAdjust="spacingAndGlyphs">Verrucomicrobia</text>
<text x="2037.95" y="865.80" font-family='"Liberation Sans", Arial, Helvetica, sans-serif' font-size="50.00" stroke="#000" stroke-width="0.5">i</text>
<text x="1775.56" y="937.70" font-family='"Liberation Sans", Arial, Helvetica, sans-serif' font-size="26.7" textLength="264.08" lengthAdjust="spacingAndGlyphs" stroke="#000" stroke-width="0.4">y = -0.0075x + 0.1527</text>
<text x="1843.55" y="973.30" font-family='"Liberation Sans", Arial, Helvetica, sans-serif' font-size="26.7" textLength="126.15" lengthAdjust="spacingAndGlyphs" stroke="#000" stroke-width="0.4">R<tspan dy="-2.2" font-size="28.3">²</tspan><tspan dy="2.2"> = 0.197</tspan></text>
<text x="1744.56" y="1214.60" font-family='"Liberation Serif", "Times New Roman", Times, serif' font-size="33.5" textLength="115.28" lengthAdjust="spacingAndGlyphs" stroke="#000" stroke-width="0.45">TOC/TN</text></g>
<g id="pj"><line x1="179" y1="1490.1" x2="188.6" y2="1490.1" stroke="#7a7a7a" stroke-width="2.4"/>
<line x1="189.2" y1="1490.1" x2="745.9" y2="1490.1" stroke="#7a7a7a" stroke-width="2.4" stroke-dasharray="8.8 3.4"/>
<line x1="179" y1="1429.1" x2="188.6" y2="1429.1" stroke="#7a7a7a" stroke-width="2.4"/>
<line x1="189.2" y1="1429.1" x2="745.9" y2="1429.1" stroke="#7a7a7a" stroke-width="2.4" stroke-dasharray="8.8 3.4"/>
<line x1="179" y1="1371.2" x2="188.6" y2="1371.2" stroke="#7a7a7a" stroke-width="2.4"/>
<line x1="189.2" y1="1371.2" x2="745.9" y2="1371.2" stroke="#7a7a7a" stroke-width="2.4" stroke-dasharray="8.8 3.4"/>
<line x1="179" y1="1310.3" x2="188.6" y2="1310.3" stroke="#7a7a7a" stroke-width="2.4"/>
<line x1="189.2" y1="1310.3" x2="745.9" y2="1310.3" stroke="#7a7a7a" stroke-width="2.4" stroke-dasharray="8.8 3.4"/>
<line x1="179" y1="1249" x2="188.6" y2="1249" stroke="#7a7a7a" stroke-width="2.4"/>
<line x1="189.2" y1="1249" x2="745.9" y2="1249" stroke="#7a7a7a" stroke-width="2.4" stroke-dasharray="8.8 3.4"/>
<line x1="188.6" y1="1248" x2="188.6" y2="1550.7" stroke="#7a7a7a" stroke-width="2.3"/>
<line x1="179" y1="1550.7" x2="745.9" y2="1550.7" stroke="#7a7a7a" stroke-width="2.3"/>
<line x1="188.6" y1="1549.7" x2="188.6" y2="1559.4" stroke="#7a7a7a" stroke-width="2.3"/>
<line x1="327.6" y1="1549.7" x2="327.6" y2="1559.4" stroke="#7a7a7a" stroke-width="2.3"/>
<line x1="467.8" y1="1549.7" x2="467.8" y2="1559.4" stroke="#7a7a7a" stroke-width="2.3"/>
<line x1="605.7" y1="1549.7" x2="605.7" y2="1559.4" stroke="#7a7a7a" stroke-width="2.3"/>
<line x1="745.9" y1="1549.7" x2="745.9" y2="1559.4" stroke="#7a7a7a" stroke-width="2.3"/>
<text x="159.7" y="1562.9" text-anchor="end" class="t">0</text>
<text x="159.7" y="1502.3" text-anchor="end" class="t">0.01</text>
<text x="159.7" y="1441.3" text-anchor="end" class="t">0.02</text>
<text x="159.7" y="1383.4" text-anchor="end" class="t">0.03</text>
<text x="159.7" y="1322.5" text-anchor="end" class="t">0.04</text>
<text x="159.7" y="1261.2" text-anchor="end" class="t">0.05</text>
<text x="188.6" y="1601.2" text-anchor="middle" class="t">0</text>
<text x="327.6" y="1601.2" text-anchor="middle" class="t">2</text>
<text x="467.8" y="1601.2" text-anchor="middle" class="t">4</text>
<text x="605.7" y="1601.2" text-anchor="middle" class="t">6</text>
<text x="745.9" y="1601.2" text-anchor="middle" class="t">8</text>
<line x1="453.3" y1="1481.3" x2="663.6" y2="1395.2" stroke="#000" stroke-width="2.9" stroke-linecap="round"/>
<circle cx="446.5" cy="1493.1" r="6.2"/>
<circle cx="448.4" cy="1486.7" r="6.2"/>
<circle cx="453.3" cy="1480.2" r="6.2"/>
<circle cx="586.7" cy="1431.4" r="6.2"/>
<circle cx="592.8" cy="1425.7" r="6.2"/>
<circle cx="594.3" cy="1432.2" r="6.2"/>
<circle cx="605.7" cy="1392.6" r="6.2"/>
<circle cx="614.5" cy="1419.2" r="6.2"/>
<circle cx="621" cy="1356" r="6.2"/>
<circle cx="621" cy="1438.3" r="6.2"/>
<circle cx="621" cy="1481.3" r="6.2"/>
<circle cx="627.4" cy="1301.1" r="6.2"/>
<circle cx="635.4" cy="1428.8" r="6.2"/>
<circle cx="636.2" cy="1437.9" r="6.2"/>
<circle cx="641.9" cy="1337.7" r="6.2"/>
<circle cx="642.3" cy="1450.5" r="6.2"/>
<circle cx="647.6" cy="1444.8" r="6.2"/>
<circle cx="647.6" cy="1325.1" r="6.2"/>
<circle cx="654.5" cy="1392.6" r="6.2"/>
<circle cx="654.5" cy="1431.4" r="6.2"/>
<circle cx="663.6" cy="1431.4" r="6.2"/>
<text x="197.29" y="1282.00" font-family='"Liberation Sans", Arial, Helvetica, sans-serif' font-size="31" font-weight="bold" font-style="italic" textLength="307.39" lengthAdjust="spacingAndGlyphs" stroke="#000" stroke-width="0.4">Gemmatimonadetes</text>
<text x="707.75" y="1287.50" font-family='"Liberation Sans", Arial, Helvetica, sans-serif' font-size="50.00" stroke="#000" stroke-width="0.5">j</text>
<text x="333.16" y="1357.90" font-family='"Liberation Sans", Arial, Helvetica, sans-serif' font-size="26.7" textLength="248.27" lengthAdjust="spacingAndGlyphs" stroke="#000" stroke-width="0.4">y = 0.0048x - 0.0069</text>
<text x="394.07" y="1394.50" font-family='"Liberation Sans", Arial, Helvetica, sans-serif' font-size="26.7" textLength="125.30" lengthAdjust="spacingAndGlyphs" stroke="#000" stroke-width="0.4">R<tspan dy="-2.2" font-size="28.3">²</tspan><tspan dy="2.2"> = 0.286</tspan></text>
<text x="438.10" y="1633.40" font-family='"Liberation Serif", "Times New Roman", Times, serif' font-size="33.5" textLength="40.50" lengthAdjust="spacingAndGlyphs" stroke="#000" stroke-width="0.45">pH</text></g>
<text transform="translate(48.8 1001.98) rotate(-90)" x="0" y="0" font-family='"Liberation Sans", Arial, Helvetica, sans-serif' font-size="57.7" textLength="584.23" lengthAdjust="spacingAndGlyphs" stroke="#000" stroke-width="0.6">Relative abundance (%)</text>
</svg>
</body></html>
